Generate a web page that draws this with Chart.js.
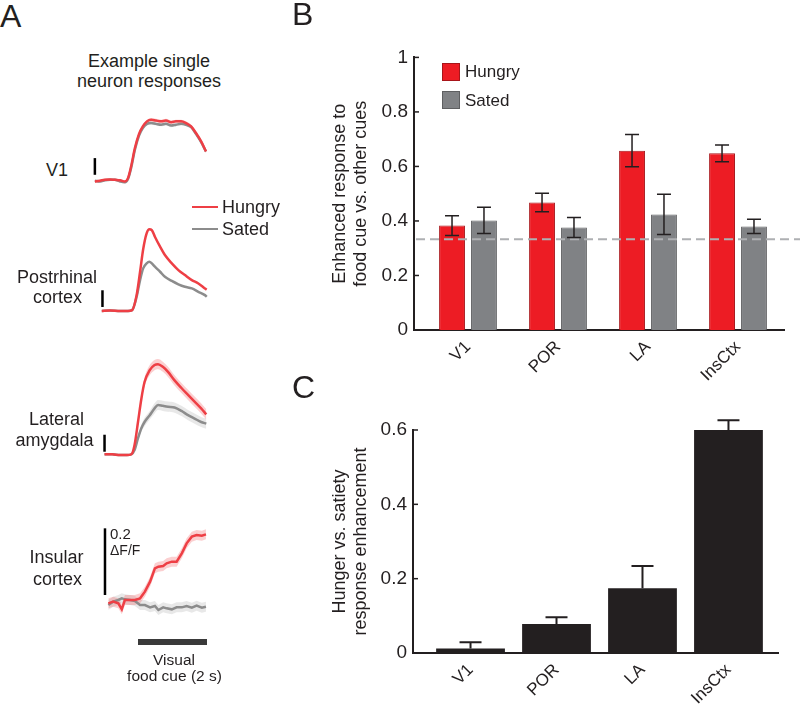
<!DOCTYPE html>
<html><head><meta charset="utf-8">
<script src="https://cdn.jsdelivr.net/npm/chart.js@4.4.1/dist/chart.umd.min.js"></script>
<style>
html,body{margin:0;padding:0;background:#fff}
body{width:800px;height:706px;position:relative;overflow:hidden;font-family:"Liberation Sans",Arial,Helvetica,sans-serif;color:#231f20}
canvas{position:absolute;display:block}
.sw{position:absolute;box-sizing:border-box}
</style></head><body>
<canvas id="cV1" width="132" height="80" style="left:88px;top:110px"></canvas>
<canvas id="cPOR" width="132" height="100" style="left:88px;top:220px"></canvas>
<canvas id="cLA" width="132" height="112" style="left:88px;top:350px"></canvas>
<canvas id="cINS" width="132" height="135" style="left:88px;top:520px"></canvas>
<canvas id="cB" width="500" height="358" style="left:300px;top:40px"></canvas>
<canvas id="cC" width="500" height="306" style="left:300px;top:400px"></canvas>
<script>
// ---------------- DATA ----------------
// Panel A: example single-neuron traces (time in s from cue onset, values in ΔF/F)
const v1Time   = [-1.25,-1.10,-0.96,-0.81,-0.67,-0.52,-0.38,-0.29,-0.20,-0.09,0.03,0.14,0.26,0.38,0.52,0.67,0.81,0.96,1.10,1.25,1.39,1.54,1.68,1.83,1.97];
const v1Hungry = [0.00,0.01,0.02,0.025,0.02,0.015,0.00,0.04,0.18,0.40,0.57,0.66,0.72,0.74,0.73,0.72,0.73,0.71,0.72,0.72,0.70,0.66,0.58,0.48,0.36];
const v1Sated  = [0.01,0.00,0.015,0.02,0.02,0.00,-0.01,0.03,0.16,0.38,0.55,0.64,0.69,0.70,0.69,0.68,0.69,0.67,0.68,0.69,0.68,0.65,0.57,0.47,0.36];
const v1Sem    = [0.015,0.015,0.015,0.015,0.015,0.015,0.015,0.015,0.02,0.02,0.02,0.02,0.02,0.02,0.02,0.02,0.02,0.02,0.02,0.02,0.02,0.02,0.02,0.02,0.02];

const porTime   = [-1.05,-0.81,-0.52,-0.29,-0.17,-0.04,0.06,0.15,0.25,0.33,0.40,0.49,0.64,0.78,0.98,1.17,1.36,1.56,1.75,1.94,1.99];
const porHungry = [0.00,0.005,0.00,0.00,0.01,0.19,0.47,0.74,0.93,0.98,0.97,0.89,0.77,0.67,0.57,0.49,0.43,0.37,0.33,0.27,0.255];
const porSated  = [0.00,0.005,0.00,0.00,0.01,0.17,0.37,0.51,0.57,0.59,0.57,0.53,0.47,0.41,0.36,0.32,0.29,0.27,0.23,0.19,0.17];

const laTime      = [-0.97,-0.75,-0.52,-0.32,-0.19,-0.10,0.00,0.10,0.19,0.34,0.48,0.58,0.72,0.87,1.06,1.26,1.45,1.64,1.83,1.98];
const laHungry    = [0.00,0.00,-0.01,-0.01,0.00,0.11,0.38,0.66,0.85,0.99,1.05,1.06,1.03,0.97,0.87,0.78,0.70,0.62,0.54,0.47];
const laSated     = [0.00,0.00,-0.01,-0.01,0.00,0.05,0.19,0.31,0.38,0.46,0.54,0.58,0.57,0.56,0.55,0.51,0.46,0.42,0.38,0.36];
const laHungrySem = [0.01,0.01,0.01,0.01,0.01,0.02,0.03,0.04,0.05,0.06,0.06,0.06,0.06,0.06,0.06,0.06,0.06,0.06,0.06,0.06];
const laSatedSem  = [0.01,0.01,0.01,0.01,0.01,0.015,0.03,0.04,0.05,0.05,0.06,0.06,0.06,0.06,0.06,0.06,0.06,0.06,0.06,0.06];

const insTime      = [-0.86,-0.72,-0.57,-0.47,-0.38,-0.23,-0.09,0.06,0.20,0.35,0.49,0.59,0.73,0.83,0.98,1.12,1.27,1.41,1.56,1.70,1.85,1.97];
const insHungry    = [0.005,0.01,0.005,-0.013,0.015,0.015,0.015,0.02,0.04,0.07,0.11,0.115,0.117,0.125,0.13,0.13,0.155,0.185,0.205,0.21,0.208,0.212];
const insSated     = [0.00,0.01,0.015,0.02,0.017,0.015,0.012,0.00,0.00,-0.007,-0.003,-0.015,-0.007,-0.01,-0.013,-0.007,-0.007,-0.003,-0.008,-0.002,-0.008,-0.005];
const insHungrySem = [0.015,0.015,0.015,0.015,0.015,0.015,0.015,0.015,0.015,0.015,0.015,0.015,0.015,0.015,0.015,0.015,0.015,0.015,0.015,0.015,0.015,0.015];
const insSatedSem  = [0.015,0.015,0.015,0.015,0.015,0.015,0.015,0.015,0.015,0.015,0.015,0.015,0.015,0.015,0.015,0.015,0.015,0.015,0.015,0.015,0.015,0.015];

const scaleBarSize = 0.2;      // ΔF/F
const cueWindow = [0, 2];      // visual food cue, s

// Panel B
const regions    = ['V1','POR','LA','InsCtx'];
const hungryB    = [0.383,0.468,0.658,0.648];
const hungryErrB = [0.036,0.034,0.059,0.031];
const satedB     = [0.402,0.376,0.424,0.380];
const satedErrB  = [0.048,0.037,0.074,0.026];
const chanceLevel = 1/3;
const yTicksB = [0,0.2,0.4,0.6,0.8,1];

// Panel C
const enhancementC    = [0.012,0.078,0.174,0.600];
const enhancementErrC = [0.017,0.018,0.060,0.026];
const yTicksC = [0,0.2,0.4,0.6];

// ---------------- STYLE ----------------
const FONT = '"Liberation Sans", Arial, Helvetica, sans-serif';
const INK = '#231f20';
const RED = '#ED1C24', RED_EDGE = '#A8151A', GRAY = '#808285', GRAY_EDGE = '#5E5F61';
const TRACE_RED = '#EE3F45', TRACE_GRAY = '#8C8C8C';
const BAND_RED = 'rgba(238,63,69,0.25)', BAND_GRAY = 'rgba(140,140,140,0.2)';
Chart.defaults.font.family = FONT;
Chart.defaults.color = INK;

// ---------------- TEXT ----------------
function txt(s, x, y, size, align) {
  const d = document.createElement('div');
  d.textContent = s;
  d.style.cssText = 'position:absolute;white-space:nowrap;line-height:1;font-size:' + size + 'px;top:' + (y - 0.488 * size) + 'px;left:' + x + 'px;' + (align === 'c' ? 'transform:translateX(-50%);' : '');
  document.body.appendChild(d);
}
txt('A', 0, 16, 32);
txt('B', 292, 14, 32);
txt('C', 292, 386.5, 32);
txt('Example single', 149, 60.5, 18, 'c');
txt('neuron responses', 149, 81, 18, 'c');
txt('V1', 57, 170, 18, 'c');
txt('Postrhinal', 57, 276.5, 18, 'c');
txt('cortex', 57.5, 297, 18, 'c');
txt('Lateral', 56.5, 418.5, 18, 'c');
txt('amygdala', 54.5, 440, 18, 'c');
txt('Insular', 56.5, 556.5, 18, 'c');
txt('cortex', 57.5, 578.5, 18, 'c');
txt('0.2', 110, 533, 15);
txt('\u0394F/F', 110, 550, 14);
txt('Visual', 174, 659.5, 15.5, 'c');
txt('food cue (2 s)', 174.5, 676, 15.5, 'c');
// panel A legend
function lineKey(color, y) {
  const d = document.createElement('div');
  d.className = 'sw';
  d.style.cssText += 'left:192px;width:26px;height:2.5px;top:' + (y - 1.25) + 'px;background:' + color;
  document.body.appendChild(d);
}
lineKey(TRACE_RED, 207); txt('Hungry', 222, 207, 18);
lineKey(TRACE_GRAY, 229); txt('Sated', 222, 229, 18);
// panel B legend
function boxKey(fill, edge, top) {
  const d = document.createElement('div');
  d.className = 'sw';
  d.style.cssText += 'left:442px;width:18px;height:18px;top:' + top + 'px;background:' + fill + ';border:1px solid ' + edge;
  document.body.appendChild(d);
}
boxKey(RED, RED_EDGE, 63); txt('Hungry', 465, 71.5, 17);
boxKey(GRAY, GRAY_EDGE, 91); txt('Sated', 465, 100, 17);

// ---------------- PANEL A CHARTS ----------------
const X_MIN = -1.4493, X_MAX = 2.3768;
function traceChart(id, yMin, yMax, time, hungry, sated, hSem, sSem, bar, opts) {
  opts = opts || {};
  const pts = (arr, sem, sign) => time.map((t, i) => ({x: t, y: arr[i] + (sem ? sign * sem[i] : 0)}));
  const interp = opts.jagged ? {tension: 0} : {cubicInterpolationMode: 'monotone'};
  const ds = [];
  if (sSem) {
    ds.push(Object.assign({data: pts(sated, sSem, 1), borderWidth: 0, borderColor: 'rgba(0,0,0,0)', pointRadius: 0, fill: false, order: 6}, interp));
    ds.push(Object.assign({data: pts(sated, sSem, -1), borderWidth: 0, borderColor: 'rgba(0,0,0,0)', pointRadius: 0, fill: '-1', backgroundColor: BAND_GRAY, order: 6}, interp));
  }
  if (hSem) {
    ds.push(Object.assign({data: pts(hungry, hSem, 1), borderWidth: 0, borderColor: 'rgba(0,0,0,0)', pointRadius: 0, fill: false, order: 5}, interp));
    ds.push(Object.assign({data: pts(hungry, hSem, -1), borderWidth: 0, borderColor: 'rgba(0,0,0,0)', pointRadius: 0, fill: '-1', backgroundColor: BAND_RED, order: 5}, interp));
  }
  ds.push(Object.assign({data: pts(sated), borderColor: TRACE_GRAY, borderWidth: 2.5, pointRadius: 0, fill: false, order: 2}, interp));
  ds.push(Object.assign({data: pts(hungry), borderColor: TRACE_RED, borderWidth: 2.5, pointRadius: 0, fill: false, order: 1}, interp));
  ds.push({data: [{x: bar.t, y: bar.base}, {x: bar.t, y: bar.base + scaleBarSize}], borderColor: '#000', borderWidth: 2.5, pointRadius: 0, fill: false, order: 0, borderCapStyle: 'butt'});
  if (opts.cueY !== undefined) {
    ds.push({data: [{x: cueWindow[0], y: opts.cueY}, {x: cueWindow[1], y: opts.cueY}], borderColor: '#3a3a3a', borderWidth: 6, pointRadius: 0, fill: false, order: 0, borderCapStyle: 'butt'});
  }
  ds.forEach(d => d.clip = false);
  return new Chart(document.getElementById(id), {
    type: 'line',
    data: {datasets: ds},
    options: {
      responsive: false, animation: false, devicePixelRatio: 1, events: [],
      layout: {padding: 0},
      plugins: {legend: {display: false}, tooltip: {enabled: false}},
      scales: {
        x: {type: 'linear', min: X_MIN, max: X_MAX, display: false},
        y: {type: 'linear', min: yMin, max: yMax, display: false}
      }
    }
  });
}
traceChart('cV1', -0.102, 0.856, v1Time, v1Hungry, v1Sated, v1Sem, v1Sem, {t: -1.25, base: 0.08});
traceChart('cPOR', -0.108, 1.090, porTime, porHungry, porSated, null, null, {t: -1.03, base: 0.048});
traceChart('cLA', -0.091, 1.227, laTime, laHungry, laSated, laHungrySem, laSatedSem, {t: -0.97, base: 0.03});
traceChart('cINS', -0.150, 0.255, insTime, insHungry, insSated, insHungrySem, insSatedSem, {t: -0.957, base: 0.03}, {jagged: true, cueY: -0.111});

// ---------------- PANELS B & C ----------------
function errPlugin(cfg) {
  return {
    id: 'err_' + cfg.name,
    afterDatasetsDraw(chart) {
      const ctx = chart.ctx, area = chart.chartArea, y = chart.scales.y;
      if (cfg.chance !== undefined) {
        const yy = y.getPixelForValue(cfg.chance);
        ctx.save(); ctx.strokeStyle = '#AEB0B3'; ctx.lineWidth = 2; ctx.setLineDash([9, 5]);
        ctx.beginPath(); ctx.moveTo(area.left + 2, yy); ctx.lineTo(chart.width, yy); ctx.stroke(); ctx.restore();
      }
      cfg.errs.forEach((errs, di) => {
        const meta = chart.getDatasetMeta(di);
        const vals = cfg.vals[di];
        meta.data.forEach((bar, i) => {
          const top = y.getPixelForValue(vals[i] + errs[i]);
          const bot = y.getPixelForValue(cfg.oneSided ? vals[i] : vals[i] - errs[i]);
          ctx.save(); ctx.strokeStyle = INK; ctx.lineWidth = cfg.width; ctx.lineCap = 'butt';
          ctx.beginPath();
          ctx.moveTo(bar.x, top); ctx.lineTo(bar.x, bot);
          ctx.moveTo(bar.x - cfg.cap, top); ctx.lineTo(bar.x + cfg.cap, top);
          if (!cfg.oneSided) { ctx.moveTo(bar.x - cfg.cap, bot); ctx.lineTo(bar.x + cfg.cap, bot); }
          ctx.stroke(); ctx.restore();
        });
      });
    },
    afterDraw(chart) {
      const ctx = chart.ctx, area = chart.chartArea, y = chart.scales.y;
      ctx.save(); ctx.strokeStyle = INK; ctx.lineWidth = 1.5;
      y.ticks.forEach(t => {
        const yy = y.getPixelForValue(t.value);
        ctx.beginPath(); ctx.moveTo(area.left, yy); ctx.lineTo(area.left + 5, yy); ctx.stroke();
      });
      ctx.restore();
    }
  };
}
function barOptions(xMin, xMax, yMax, yTicks, title, yWidth, xHeight, pad) {
  return {
    responsive: false, animation: false, devicePixelRatio: 1, events: [],
    layout: {padding: pad},
    plugins: {legend: {display: false}, tooltip: {enabled: false}},
    scales: {
      x: {
        type: 'linear', min: xMin, max: xMax, offset: false,
        afterBuildTicks: s => { s.ticks = regions.map((r, i) => ({value: i})); },
        afterFit: s => { s.height = xHeight; },
        grid: {display: false, drawTicks: false, offset: false},
        border: {display: true, color: INK, width: 2},
        ticks: {autoSkip: false, maxRotation: 45, minRotation: 45, padding: 7, color: INK, font: {size: 17}, callback: v => regions[v]}
      },
      y: {
        type: 'linear', min: 0, max: yMax,
        afterBuildTicks: s => { s.ticks = yTicks.map(v => ({value: v})); },
        afterFit: s => { s.width = yWidth; },
        grid: {display: false, drawTicks: false},
        border: {display: true, color: INK, width: 2},
        ticks: {padding: 6, color: INK, font: {size: 19}, callback: v => String(v)},
        title: {display: true, text: title, color: INK, font: {size: 18, lineHeight: 1.14}, padding: {top: 30, bottom: 0}}
      }
    }
  };
}

new Chart(document.getElementById('cB'), {
  type: 'bar',
  data: {datasets: [
    {label: 'Hungry', data: regions.map((r, i) => ({x: i, y: hungryB[i]})), backgroundColor: RED, borderColor: RED_EDGE, borderWidth: 1, categoryPercentage: 0.71, barPercentage: 0.81},
    {label: 'Sated', data: regions.map((r, i) => ({x: i, y: satedB[i]})), backgroundColor: GRAY, borderColor: GRAY_EDGE, borderWidth: 1, categoryPercentage: 0.71, barPercentage: 0.81}
  ]},
  options: barOptions(-0.6, 3.511, 1, yTicksB, ['Enhanced response to', 'food cue vs. other cues'], 114, 68, {left: 0, right: 16, top: 17, bottom: 0}),
  plugins: [errPlugin({name: 'B', errs: [hungryErrB, satedErrB], vals: [hungryB, satedB], cap: 7, width: 1.5, chance: chanceLevel})]
});

new Chart(document.getElementById('cC'), {
  type: 'bar',
  data: {datasets: [
    {label: 'Hunger vs. satiety', data: regions.map((r, i) => ({x: i, y: enhancementC[i]})), backgroundColor: INK, borderWidth: 0, categoryPercentage: 1, barPercentage: 0.8}
  ]},
  options: barOptions(-0.669, 3.576, 0.6, yTicksC, ['Hunger vs. satiety', 'response enhancement'], 113, 53, {left: 0, right: 22, top: 30, bottom: 0}),
  plugins: [errPlugin({name: 'C', errs: [enhancementErrC], vals: [enhancementC], cap: 11, width: 2, oneSided: true})]
});
</script>
</body></html>
